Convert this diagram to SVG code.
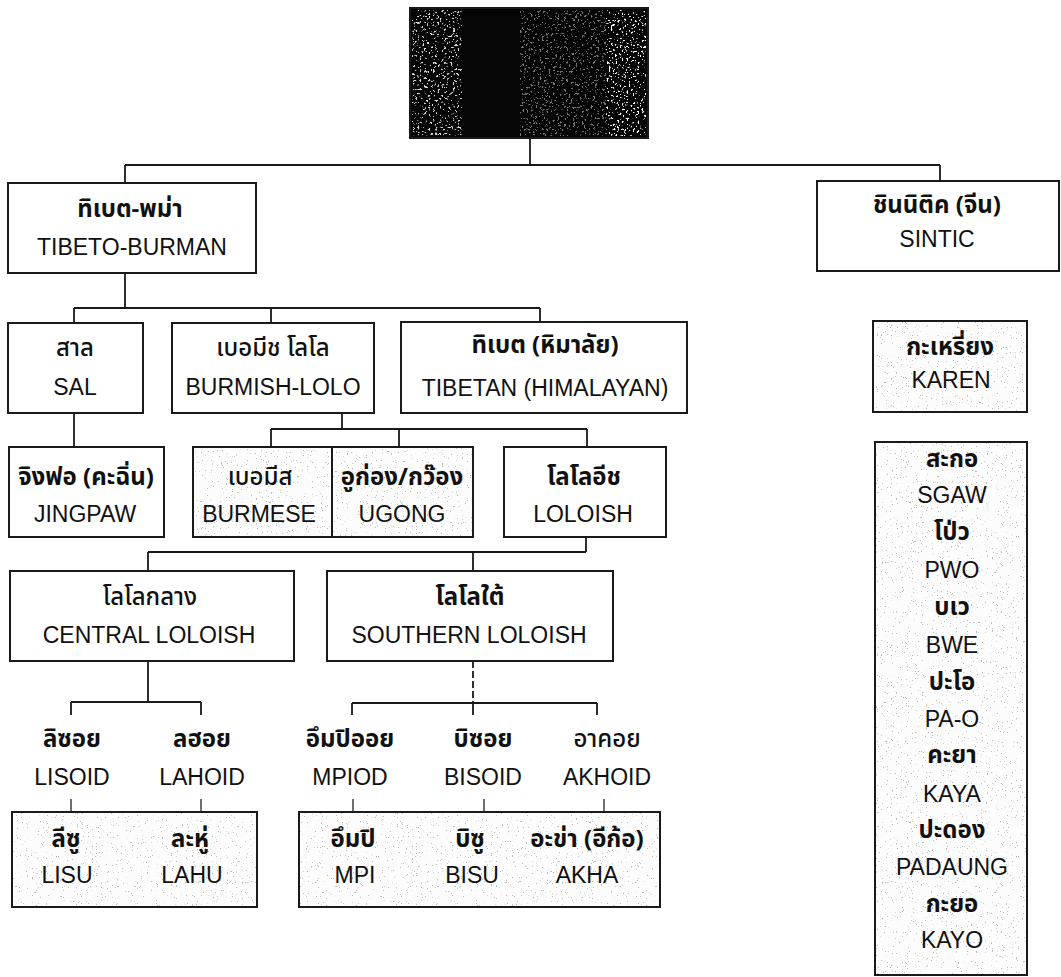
<svg xmlns="http://www.w3.org/2000/svg" width="1061" height="977" viewBox="0 0 1061 977">
<style>
.box{fill:none;stroke:#1a1a1a;stroke-width:2}
.shade{fill:#fcfcfc}
.ln{fill:none;stroke:#1a1a1a;stroke-width:1.8}
.thin{fill:none;stroke:#333;stroke-width:1.4}
.en{font-family:"Liberation Sans",Arial,sans-serif;font-size:23px;text-anchor:middle;fill:#111}
.th{font-family:"Noto Sans Thai","Noto Sans","Liberation Sans",sans-serif;font-size:24px;font-weight:bold;text-anchor:middle;fill:#111}
.thr{font-family:"Noto Sans Thai","Noto Sans","Liberation Sans",sans-serif;font-size:24px;font-weight:500;text-anchor:middle;fill:#111}
</style>
<defs>
<filter id="speck" x="0" y="0" width="100%" height="100%">
<feTurbulence type="fractalNoise" baseFrequency="0.8" numOctaves="3" seed="4" result="n"/>
<feColorMatrix in="n" type="matrix" values="0 0 0 0 0.5  0 0 0 0 0.5  0 0 0 0 0.5  16 0 0 0 -11.2" result="dots"/>
<feComposite in="dots" in2="SourceGraphic" operator="in"/>
</filter>
<filter id="wspeck" x="0" y="0" width="100%" height="100%">
<feTurbulence type="fractalNoise" baseFrequency="0.45" numOctaves="3" seed="9" result="n"/>
<feColorMatrix in="n" type="matrix" values="0 0 0 0 1  0 0 0 0 1  0 0 0 0 1  14 0 0 0 -8.6" result="dots"/>
<feComposite in="dots" in2="SourceGraphic" operator="in"/>
</filter>
</defs>
<rect width="1061" height="977" fill="#fff"/>

<g id="connectors">
<path class="ln" d="M530 138V165M125 165H940M125 165V183M940 165V181"/>
<path class="ln" d="M125 273V308M74 308H540M74 308V323M271 308V323M540 308V322"/>
<path class="ln" d="M74 413V447M342 413V429M271 429H587M271 429V447M399 429V447M587 429V447"/>
<path class="ln" d="M586 537V552M148 552H586M148 552V571M473 552V571"/>
<path class="ln" d="M148 661V702M71 702H201M71 702V715M201 702V715"/>
<path class="ln" d="M473 661V703" stroke-dasharray="7 3"/>
<path class="ln" d="M352 703H597M352 703V715M473 703V715M597 703V715"/>
<path class="thin" d="M71 799V812M201 799V812M353 799V812M484 799V812M604 799V812"/>
</g>

<g id="root">
<rect x="410" y="8" width="238" height="130" fill="#050505"/>
<rect x="412" y="10" width="50" height="126" fill="#fff" filter="url(#wspeck)" opacity="0.85"/>
<rect x="606" y="10" width="40" height="126" fill="#fff" filter="url(#wspeck)"/>
<rect x="520" y="10" width="86" height="126" fill="#fff" filter="url(#wspeck)" opacity="0.45"/>
<rect x="410" y="8" width="238" height="130" class="box"/>
</g>

<g id="tibeto-burman">
<rect x="8" y="183" width="248" height="90" class="box"/>
<text class="th" x="130" y="217">ทิเบต-พม่า</text>
<text class="en" x="132" y="255">TIBETO-BURMAN</text>
</g>

<g id="sintic">
<rect x="817" y="181" width="242" height="90" class="box"/>
<text class="th" x="937" y="213">ชินนิติค (จีน)</text>
<text class="en" x="937" y="247">SINTIC</text>
</g>

<g id="sal">
<rect x="8" y="323" width="135" height="90" class="box"/>
<text class="thr" x="75" y="356">สาล</text>
<text class="en" x="75" y="395">SAL</text>
</g>

<g id="burmish-lolo">
<rect x="172" y="323" width="202" height="90" class="box"/>
<text class="thr" x="273" y="356">เบอมีช โลโล</text>
<text class="en" x="273" y="395">BURMISH-LOLO</text>
</g>

<g id="tibetan">
<rect x="401" y="322" width="286" height="91" class="box"/>
<text class="th" x="545" y="353">ทิเบต (หิมาลัย)</text>
<text class="en" x="545" y="396">TIBETAN (HIMALAYAN)</text>
</g>

<g id="karen">
<rect x="873" y="321" width="154" height="91" class="shade"/>
<rect x="873" y="321" width="154" height="91" fill="#fff" filter="url(#speck)"/>
<rect x="873" y="321" width="154" height="91" class="box"/>
<text class="th" x="950" y="355">กะเหรี่ยง</text>
<text class="en" x="951" y="388">KAREN</text>
</g>

<g id="jingpaw">
<rect x="9" y="447" width="155" height="90" class="box"/>
<text class="th" x="86" y="485">จิงฟอ (คะฉิ่น)</text>
<text class="en" x="85" y="522">JINGPAW</text>
</g>

<g id="burmese">
<rect x="193" y="447" width="139" height="90" class="shade"/>
<rect x="193" y="447" width="139" height="90" fill="#fff" filter="url(#speck)"/>
<rect x="193" y="447" width="139" height="90" class="box"/>
<text class="thr" x="260" y="485">เบอมีส</text>
<text class="en" x="259" y="522">BURMESE</text>
</g>

<g id="ugong">
<rect x="332" y="447" width="141" height="90" class="shade"/>
<rect x="332" y="447" width="141" height="90" fill="#fff" filter="url(#speck)"/>
<rect x="332" y="447" width="141" height="90" class="box"/>
<text class="th" x="402" y="485">อูก่อง/กว๊อง</text>
<text class="en" x="402" y="522">UGONG</text>
</g>

<g id="loloish">
<rect x="504" y="447" width="162" height="90" class="box"/>
<text class="th" x="584" y="485">โลโลอีช</text>
<text class="en" x="583" y="522">LOLOISH</text>
</g>

<g id="central-loloish">
<rect x="10" y="571" width="284" height="90" class="box"/>
<text class="thr" x="150" y="605">โลโลกลาง</text>
<text class="en" x="149" y="643">CENTRAL LOLOISH</text>
</g>

<g id="southern-loloish">
<rect x="327" y="571" width="286" height="90" class="box"/>
<text class="th" x="470" y="605">โลโลใต้</text>
<text class="en" x="469" y="643">SOUTHERN LOLOISH</text>
</g>

<g id="lisoid">
<text class="th" x="72" y="747">ลิซอย</text>
<text class="en" x="72" y="785">LISOID</text>
</g>
<g id="lahoid">
<text class="th" x="202" y="747">ลฮอย</text>
<text class="en" x="202" y="785">LAHOID</text>
</g>
<g id="mpiod">
<text class="th" x="350" y="747">อึมปิออย</text>
<text class="en" x="350" y="785">MPIOD</text>
</g>
<g id="bisoid">
<text class="th" x="483" y="747">บิซอย</text>
<text class="en" x="483" y="785">BISOID</text>
</g>
<g id="akhoid">
<text class="thr" x="607" y="747">อาคอย</text>
<text class="en" x="607" y="785">AKHOID</text>
</g>

<g id="lisu-lahu">
<rect x="12" y="812" width="245" height="95" class="shade"/>
<rect x="12" y="812" width="245" height="95" fill="#fff" filter="url(#speck)"/>
<rect x="12" y="812" width="245" height="95" class="box"/>
<text class="th" x="66" y="847">ลีซู</text>
<text class="en" x="67" y="883">LISU</text>
<text class="th" x="190" y="847">ละหู่</text>
<text class="en" x="192" y="883">LAHU</text>
</g>

<g id="mpi-bisu-akha">
<rect x="299" y="812" width="361" height="95" class="shade"/>
<rect x="299" y="812" width="361" height="95" fill="#fff" filter="url(#speck)"/>
<rect x="299" y="812" width="361" height="95" class="box"/>
<text class="th" x="353" y="847">อึมปิ</text>
<text class="en" x="355" y="883">MPI</text>
<text class="th" x="470" y="847">บิซู</text>
<text class="en" x="472" y="883">BISU</text>
<text class="th" x="587" y="847">อะข่า (อีก้อ)</text>
<text class="en" x="587" y="883">AKHA</text>
</g>

<g id="karen-list">
<rect x="875" y="442" width="152" height="533" class="shade"/>
<rect x="875" y="442" width="152" height="533" fill="#fff" filter="url(#speck)"/>
<rect x="875" y="442" width="152" height="533" class="box"/>
<text class="th" x="952" y="467">สะกอ</text>
<text class="en" x="952" y="503">SGAW</text>
<text class="th" x="952" y="540">โป่ว</text>
<text class="en" x="952" y="578">PWO</text>
<text class="th" x="952" y="615">บเว</text>
<text class="en" x="952" y="653">BWE</text>
<text class="th" x="952" y="690">ปะโอ</text>
<text class="en" x="952" y="727">PA-O</text>
<text class="th" x="952" y="763">คะยา</text>
<text class="en" x="952" y="802">KAYA</text>
<text class="th" x="952" y="838">ปะดอง</text>
<text class="en" x="952" y="875">PADAUNG</text>
<text class="th" x="952" y="912">กะยอ</text>
<text class="en" x="952" y="948">KAYO</text>
</g>
</svg>
